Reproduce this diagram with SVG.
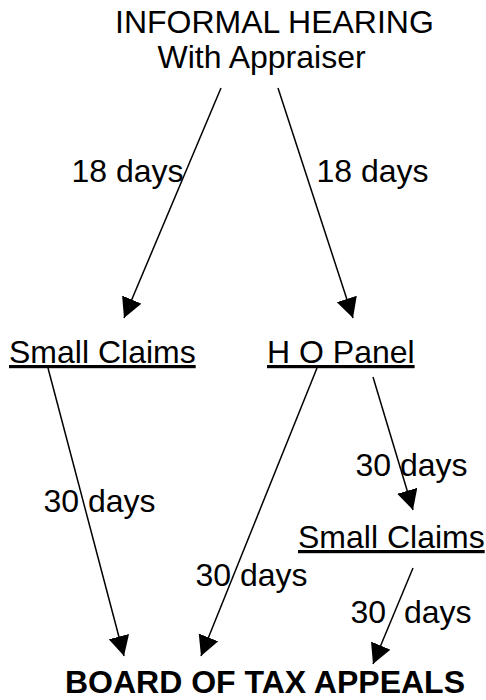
<svg xmlns="http://www.w3.org/2000/svg" width="486" height="700" viewBox="0 0 486 700">
<defs>
<style>
text{font-family:"Liberation Sans",Arial,sans-serif;font-size:32px;fill:#000}
.u{text-decoration:underline}
.b{font-weight:bold}
.c{text-anchor:middle}
.pre{white-space:pre}
.conn line{stroke:#000;stroke-width:1.5;fill:none;marker-end:url(#ah)}
</style>
<marker id="ah" markerUnits="userSpaceOnUse" markerWidth="22" markerHeight="22" refX="20" refY="10.5" orient="auto">
<path d="M0,0 L20,10.5 L0,21 z" fill="#000"/>
</marker>
</defs>
<rect width="486" height="700" fill="#fff"/>
<g id="informal">
<text x="115" y="33">INFORMAL HEARING</text>
<text x="157.5" y="68">With Appraiser</text>
</g>
<g id="small-claims-1"><text class="u" x="9" y="363">Small Claims</text></g>
<g id="ho-panel"><text class="u" x="267" y="363">H O Panel</text></g>
<g id="small-claims-2"><text class="u" x="298" y="548">Small Claims</text></g>
<g id="board"><text class="b c" x="265" y="693">BOARD OF TAX APPEALS</text></g>
<g class="conn" id="connectors">
<line x1="221" y1="88" x2="124" y2="318"/>
<line x1="278" y1="88" x2="353" y2="318"/>
<line x1="48" y1="368" x2="124" y2="656"/>
<line x1="317" y1="368" x2="201" y2="656"/>
<line x1="373" y1="377" x2="413" y2="510"/>
<line x1="413" y1="568" x2="373" y2="664"/>
</g>
<g id="labels">
<text x="71.5" y="182">18 days</text>
<text x="316.5" y="182">18 days</text>
<text x="43.5" y="512">30 days</text>
<text x="355.5" y="476">30 days</text>
<text x="195.5" y="586">30 days</text>
<text class="pre" x="350.5" y="623">30  days</text>
</g>
</svg>
